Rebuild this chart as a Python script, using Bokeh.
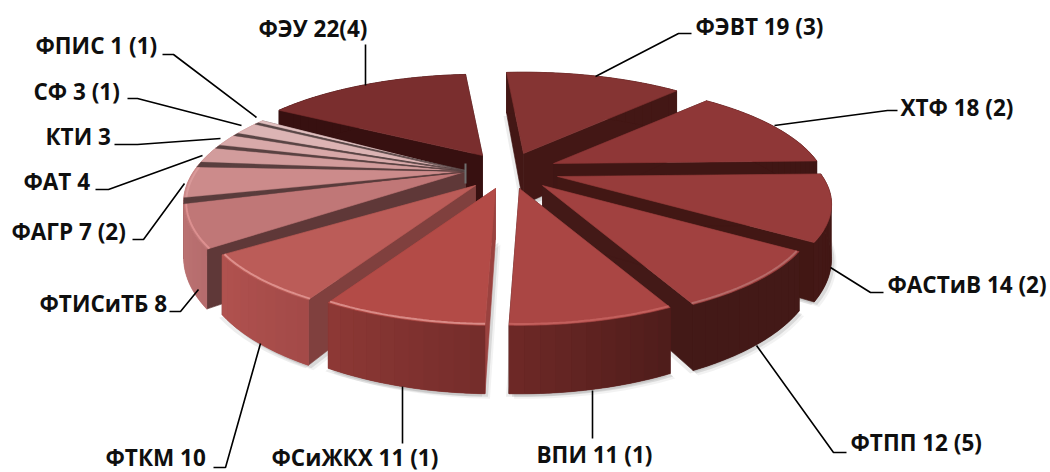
import math
from bokeh.plotting import figure
from bokeh.core.properties import value
from bokeh.embed import file_html
from bokeh.resources import INLINE

# ---- data, clockwise from the top of the pie
names  = ["ФЭВТ","ХТФ","ФАСТиВ","ФТПП","ВПИ","ФСиЖКХ","ФТКМ","ФТИСиТБ","ФАГР","ФАТ","КТИ","СФ","ФПИС","ФЭУ"]
values = [19,18,14,12,11,11,10,8,7,4,3,3,1,22]
labels = ["ФЭВТ 19 (3)","ХТФ 18 (2)","ФАСТиВ 14 (2)","ФТПП 12 (5)","ВПИ 11 (1)","ФСиЖКХ 11 (1)","ФТКМ 10",
          "ФТИСиТБ 8","ФАГР 7 (2)","ФАТ 4","КТИ 3","СФ 3 (1)","ФПИС 1 (1)","ФЭУ 22(4)"]

# ---- styling per slice
tops   = ["#853433","#8f3737","#973c3b","#a14140","#aa4644","#b34b47","#bb5c58","#c07777","#cc8b8b","#d29c9c","#d8a9a9","#dcb4b4","#e2c0c0","#7a2e2e"]
cuts   = ["#431715","#401614","#421714","#431917","#431917","#9a423f","#80403e","#5f3838","#5a3c3c","#5a3f3f","#5a4242","#5a4545","#5a4848","#371010"]
wall_a = ["#431715","#401614","#441816","#431917","#6e2927","#8e3936","#b1524f","#bc7475","#c87c7c","#c98c8c","#c98c8c","#c98c8c","#c98c8c","#371010"]
wall_b = ["#431715","#401614","#3f1513","#431917","#4e1c1a","#742c2a","#a34a48","#b66c6c","#bd7474","#c98c8c","#c98c8c","#c98c8c","#c98c8c","#371010"]
rims   = [None,None,None,"#b56a68","#c25f5c","#d98a86","#dd8f8b","#dc9090","#d99a9a",None,None,None,None,None]
tip_x  = [523,553,557,542,519,495,475,490,490,490,490,490,490,482]
tip_y  = [153,163,176,185,188,188,185,171,171,171,171,171,171,155]
scale  = [1,1,1,1,1,1,1,1.12,1.12,1.12,1.12,1.12,1.12,1]
band   = [0,0,0,0,0,0,0,0,2.8,2.5,1.8,1.5,1.2,0]
order  = [13,12,11,10,9,8,7,6,0,1,2,3,4,5]

ROT, RX, RY, K, H = -4.6, 265, 102, 0.255, 51
CLIP_X = 465
PINK = {7,8,9,10,11,12}

# ---- labels and their leader lines, in page pixels
lab_x = [695,900,887,850,536,271,105,39,11,23,45,33,35,258]
lab_y = [26,107,284,442,454,457,457,303,231,181,136,91,45,28]
lead_x = [[595,678,691],[774,887,897],[830,870,883],[756,833,846],[592,592],[402,402],[260,225,213],
          [198,180,169],[184,143,132],[202,108,95],[220,137,114],[241,137,127],[256,173,162],[365,365]]
lead_y = [[76,33,33],[125,110,110],[267,292,292],[345,452,452],[390,438],[386,443],[343,467,467],
          [289,311,311],[183,239,239],[155,189,189],[138,144,144],[125,98,98],[117,54,54],[85,44]]

total = sum(values)
ang = [0.0]
for v in values:
    ang.append(ang[-1] + 360.0 * v / total)

def pr(i, deg, r=1.0):
    t = math.radians(deg + ROT)
    X, Y = r * math.sin(t), r * math.cos(t)
    d = 1 + K * Y
    x = tip_x[i] + RX * scale[i] * X / d
    y = tip_y[i] - RY * scale[i] * Y / d
    if i in PINK:
        x = min(x, CLIP_X)
    return x, y

def hgt(i, deg, r=1.0):
    t = math.radians(deg + ROT)
    return H / (1 + K * r * math.cos(t))

def arc(a, b, step=1.0):
    n = max(2, int(abs(b - a) / step) + 1)
    return [a + (b - a) * j / (n - 1) for j in range(n)]

def mix(c1, c2, f):
    p = [int(c1[k:k+2], 16) for k in (1, 3, 5)]
    q = [int(c2[k:k+2], 16) for k in (1, 3, 5)]
    return "#%02x%02x%02x" % tuple(round(a + (b - a) * f) for a, b in zip(p, q))

p = figure(width=1050, height=472, x_range=(0, 1050), y_range=(472, 0),
           output_backend="svg", toolbar_location=None, min_border=0,
           outline_line_color=None, background_fill_color="white")
p.axis.visible = False
p.grid.visible = False

def poly(xs, ys, color, **kw):
    kw.setdefault("line_color", color)
    kw.setdefault("line_width", 0.6)
    p.patch(xs, ys, fill_color=color, **kw)

# soft shadow under the slices
for dx, dy, al in ((3, 3, 0.10), (-3, 3, 0.07), (5, 5, 0.05)):
    for i in range(7):
        A = arc(ang[i], ang[i+1], 3)
        xs = [tip_x[i]] + [pr(i, a)[0] for a in A]
        ys = [tip_y[i] + H] + [pr(i, a)[1] + hgt(i, a) for a in A]
        p.patch([x + dx for x in xs], [y + dy for y in ys], fill_color="#000000", fill_alpha=al, line_color=None)

for i in order:
    a0, a1 = ang[i], ang[i+1]
    # the two cut faces
    for a in (a1, a0):
        x1, y1 = pr(i, a)
        x0, y0 = pr(i, a, 0.0)
        poly([x0, x1, x1, x0], [y0, y1, y1 + hgt(i, a), y0 + H], cuts[i])
    # outer face: a base plus bands shading along the arc
    A = arc(a0, a1, 1.0)
    tx = [pr(i, a)[0] for a in A]
    ty = [pr(i, a)[1] for a in A]
    by = [pr(i, a)[1] + hgt(i, a) for a in A]
    poly(tx + tx[::-1], ty + by[::-1], mix(wall_a[i], wall_b[i], 0.5))
    B = arc(a0, a1, 2.5)
    for j in range(len(B) - 1):
        C = arc(B[j], B[j+1], 0.5)
        cx = [pr(i, a)[0] for a in C]
        cy = [pr(i, a)[1] for a in C]
        dy = [pr(i, a)[1] + hgt(i, a) for a in C]
        f = 1 - (j + 0.5) / (len(B) - 1)
        p.patch(cx + cx[::-1], cy + dy[::-1], fill_color=mix(wall_a[i], wall_b[i], f), line_color=None)
    # top face
    pts = [pr(i, a) for a in A]
    x0, y0 = pr(i, a0, 0.0)
    poly([x0] + [q[0] for q in pts], [y0] + [q[1] for q in pts], tops[i])
    # highlighted rim on the front of the slice
    if rims[i]:
        F = [a for a in A if math.cos(math.radians(a + ROT)) < 0.12]
        if len(F) > 1:
            q = [pr(i, a, 0.992) for a in F]
            p.line([c[0] for c in q], [c[1] for c in q], line_color=rims[i], line_width=2.0)

# dark seams between the pale slices
for i in sorted(PINK):
    if band[i]:
        a = ang[i]
        x0, y0 = pr(i, a, 0.0); xa, ya = pr(i, a); xb, yb = pr(i, a + band[i])
        poly([x0, xa, xb], [y0, ya, yb], cuts[i], line_width=0.3)
        xm, ym = pr(i, a + band[i] * 0.5, 0.02)
        p.line([xm, 0.5 * (xa + xb)], [ym, 0.5 * (ya + yb)], line_color=cuts[i], line_width=1.0)
p.segment([CLIP_X], [163], [CLIP_X], [183], line_color="#6f6f6f", line_width=2)

# leaders and labels
p.multi_line(lead_x, lead_y, line_color="#000000", line_width=1.6)
p.text(lab_x, lab_y, text=labels, text_font=value("Open Sans"), text_font_style="bold",
       text_font_size="22.5px", text_color="#0f0f0f", text_align="left", text_baseline="middle")

open("out.html", "w").write(file_html(p, INLINE))
